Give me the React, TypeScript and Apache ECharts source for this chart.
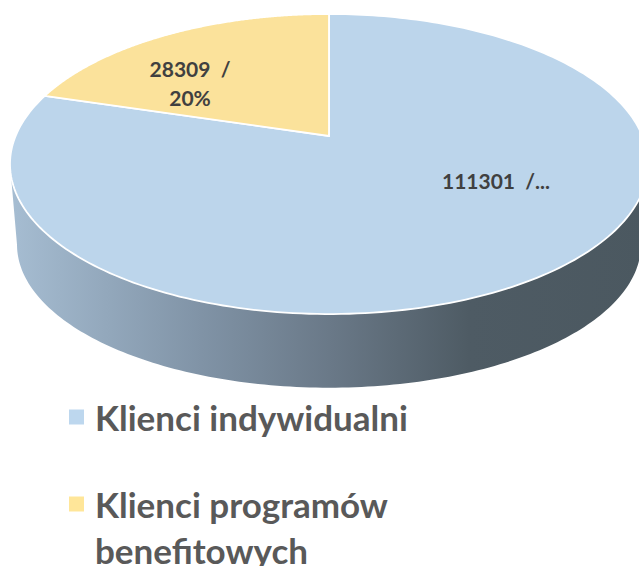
import React, { useEffect, useRef } from "react";
import * as echarts from "echarts";

const categories = ["Klienci indywidualni", "Klienci programów benefitowych"];
const values = [111301, 28309];
const sliceLabels = ["111301  /...", "28309  /\n20%"];

const FONT = "Lato, Carlito, sans-serif";
const TOP = { cx: 329, cy: 136, a: 313.4, b: 144.8, k: 0.1867 };
const BASE = { cx: 329, cy: 218, a: 306.5, b: 138, k: 0.1867 };
const COLORS = ["#BCD5EB", "#FBE29B"];
const LABEL_AT = [
  [496, 180],
  [190, 83],
];

type Disc = typeof TOP;
function project(d: Disc, theta: number, r = 1): number[] {
  const u = r * Math.sin(theta);
  const v = r * Math.cos(theta);
  const w = 1 + d.k * v;
  return [d.cx + (d.a * u) / w, d.cy - (d.b * v) / w];
}
function arc(d: Disc, from: number, to: number, steps: number): number[][] {
  const pts: number[][] = [];
  for (let i = 0; i <= steps; i++) pts.push(project(d, from + ((to - from) * i) / steps));
  return pts;
}

function sliceRange(index: number): number[] {
  const total = values.reduce((s, x) => s + x, 0);
  const before = values.slice(0, index).reduce((s, x) => s + x, 0);
  return [(before / total) * Math.PI * 2, ((before + values[index]) / total) * Math.PI * 2];
}

function renderSlice(params: any) {
  const i = params.seriesIndex;
  const [from, to] = sliceRange(i);
  const children: any[] = [];
  if (i === 0) {
    const t0 = Math.acos(-TOP.k);
    const bottom = arc(BASE, t0, Math.PI * 2 - t0, 160);
    const top = arc(TOP, Math.PI * 2 - t0, t0, 160);
    children.push({
      type: "polygon",
      shape: { points: bottom.concat(top) },
      style: {
        fill: new echarts.graphic.LinearGradient(0, 0, 1, 0, [
          { offset: 0, color: "#A6BDD2" },
          { offset: 0.3, color: "#8093A6" },
          { offset: 0.5, color: "#6A7988" },
          { offset: 0.72, color: "#4E5B64" },
          { offset: 1, color: "#4B5860" },
        ]),
      },
    });
  }
  const pts = [project(TOP, 0, 0)].concat(arc(TOP, from, to, 240));
  children.push({
    type: "polygon",
    shape: { points: pts },
    style: { fill: COLORS[i], stroke: "#FFFFFF", lineWidth: 1.8, lineJoin: "miter" },
  });
  children.push({
    type: "text",
    z2: 10,
    style: {
      text: sliceLabels[i],
      x: LABEL_AT[i][0],
      y: LABEL_AT[i][1],
      align: "center",
      verticalAlign: "middle",
      fill: "#404040",
      font: `bold 21px ${FONT}`,
      lineHeight: 29,
    },
  });
  return { type: "group", children };
}

export default function App() {
  const ref = useRef<HTMLDivElement>(null);
  useEffect(() => {
    document.body.style.margin = "0";
    const chart = echarts.init(ref.current!, undefined, { renderer: "svg" });
    chart.setOption({
      animation: false,
      backgroundColor: "#FFFFFF",
      legend: {
        orient: "vertical",
        left: 64,
        top: 389,
        height: 400,
        itemWidth: 15,
        itemHeight: 15,
        itemGap: -5,
        icon: "rect",
        selectedMode: false,
        formatter: (n: string) =>
          n.includes("programów ") ? "\n" + n.replace("programów ", "programów\n") : n,
        textStyle: {
          fontFamily: FONT,
          fontWeight: "bold",
          fontSize: 35,
          lineHeight: 46,
          color: "#595959",
          padding: [0, 0, 0, 6],
        },
        data: [
          { name: categories[0], itemStyle: { color: "#BDD7EE" } },
          { name: categories[1], itemStyle: { color: "#FFE699" } },
        ],
      },
      series: categories.map((name, i) => ({
        type: "custom",
        name,
        coordinateSystem: "none",
        silent: true,
        itemStyle: { color: COLORS[i] },
        data: [[values[i]]],
        renderItem: renderSlice,
      })),
    });
    return () => chart.dispose();
  }, []);
  return <div ref={ref} style={{ width: 639, height: 566 }} />;
}
